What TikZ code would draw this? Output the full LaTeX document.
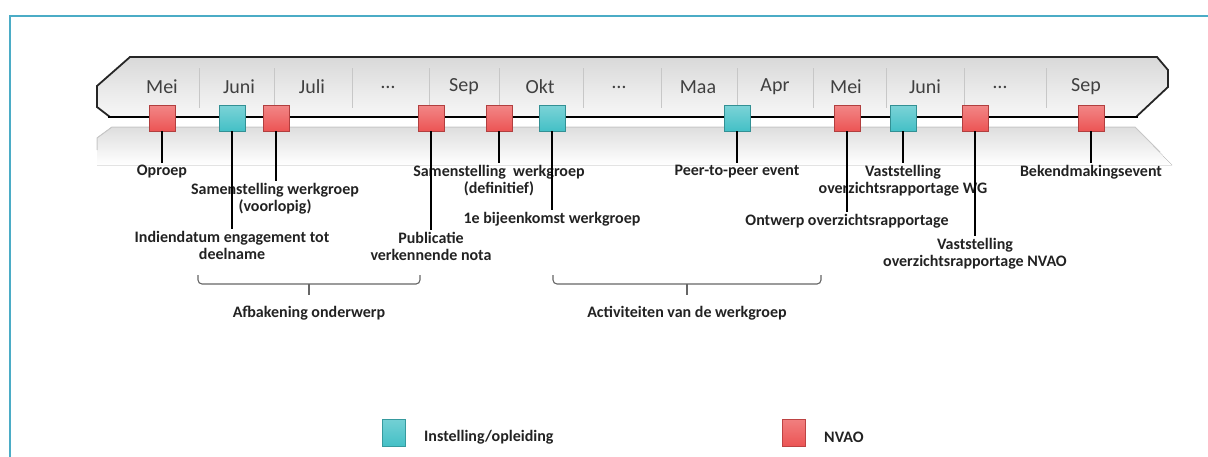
\documentclass[tikz,border=0pt]{standalone}
\usepackage{fontspec}
\setmainfont{Carlito}
\definecolor{frameblue}{HTML}{4BACC6}
\definecolor{nvaored}{HTML}{EC5454}
\definecolor{instcyan}{HTML}{44C0C6}
\definecolor{labeltext}{HTML}{222222}
\definecolor{monthtext}{HTML}{404040}
\tikzset{
  sq/.style={minimum size=26pt, inner sep=0pt, draw=#1!75!black, line width=0.6pt,
             top color=#1!70!white, bottom color=#1},
  legsq/.style={minimum width=23pt, minimum height=27pt, inner sep=0pt, draw=#1!80!black,
             line width=0.5pt, top color=#1!75!white, bottom color=#1},
  lbl/.style={anchor=north, inner sep=2pt, align=center, text=labeltext,
             font=\bfseries\fontsize{16}{17}\selectfont},
  month/.style={text=monthtext, font=\fontsize{20}{22}\selectfont, inner sep=0pt},
  sep/.style={black!22, line width=0.9pt},
  conn/.style={black, line width=1.8pt},
  brace/.style={black!60, line width=1.1pt, rounded corners=4pt},
  legtxt/.style={anchor=west, inner sep=0pt, text=labeltext,
             font=\bfseries\fontsize{16}{17}\selectfont}
}
\begin{document}
\begin{tikzpicture}[x=1pt,y=-1pt]
\useasboundingbox (0,0) rectangle (1208,456);
% frame
\draw[frameblue, line width=2pt] (10,470) -- (10,16) -- (1220,16);
% reflection
\fill[top color=black!13, bottom color=white] (112,127) -- (1135,127) -- (1172,165) -- (97,165) -- (97,138) -- cycle;
\draw[black!22, line width=1pt] (97,150) -- (97,138) -- (112,127) -- (1135,127) -- (1160,152);
% banner
\fill[top color=black!15, bottom color=black!3] (130,57) -- (1157,57) -- (1168,70) -- (1168,87) -- (1136,117) -- (110,117) -- (97,107) -- (97,86) -- cycle;
\draw[black!85, line width=1.8pt] (110,117) -- (97,107) -- (97,86) -- (130,57) -- (1157,57) -- (1168,70) -- (1168,87) -- (1136,117);
\draw[black, line width=2.2pt] (108,117) -- (1138,117);
% separators
\foreach \x in {199,274,352,429,499,583,661,737,813,886,964,1046}
  \draw[sep] (\x,68) -- (\x,108);
% months
\node[month] (m1) at (162,87) {Mei};
\node[month] (m2) at (239,87) {Juni};
\node[month] (m3) at (312,87) {Juli};
\node[month] (m4) at (388,87) {…};
\node[month] (m5) at (464,87) {Sep};
\node[month] (m6) at (540,87) {Okt};
\node[month] (m7) at (619,87) {…};
\node[month] (m8) at (698,87) {Maa};
\node[month] (m9) at (775,87) {Apr};
\node[month] (m10) at (846,87) {Mei};
\node[month] (m11) at (925,87) {Juni};
\node[month] (m12) at (1000,87) {…};
\node[month] (m13) at (1086,87) {Sep};
% labels
\node[lbl] (l1) at (162,163) {Oproep};
\node[lbl] (l2) at (232,229) {Indiendatum engagement tot\\deelname};
\node[lbl] (l3) at (275,181) {Samenstelling werkgroep\\(voorlopig)};
\node[lbl] (l4) at (431,230) {Publicatie\\verkennende nota};
\node[lbl] (l5) at (499,163) {Samenstelling\ \ werkgroep\\(definitief)};
\node[lbl] (l6) at (552,210) {1e bijeenkomst werkgroep};
\node[lbl] (l7) at (737,163) {Peer-to-peer event};
\node[lbl] (l8) at (847,212) {Ontwerp overzichtsrapportage};
\node[lbl] (l9) at (903,163) {Vaststelling\\overzichtsrapportage WG};
\node[lbl] (l10) at (975,236) {Vaststelling\\overzichtsrapportage NVAO};
\node[lbl] (l11) at (1091,163) {Bekendmakingsevent};
% squares
\node[sq=nvaored] (s1) at (162,118) {};
\node[sq=instcyan] (s2) at (232,118) {};
\node[sq=nvaored] (s3) at (276,118) {};
\node[sq=nvaored] (s4) at (431,118) {};
\node[sq=nvaored] (s5) at (499,118) {};
\node[sq=instcyan] (s6) at (552,118) {};
\node[sq=instcyan] (s7) at (737,118) {};
\node[sq=nvaored] (s8) at (847,118) {};
\node[sq=instcyan] (s9) at (903,118) {};
\node[sq=nvaored] (s10) at (975,118) {};
\node[sq=nvaored] (s11) at (1091,118) {};
% connectors
\draw[conn] (s1.south) -- (s1.south |- l1.north);
\draw[conn] (s2.south) -- (s2.south |- l2.north);
\draw[conn] (s3.south) -- (s3.south |- l3.north);
\draw[conn] (s4.south) -- (s4.south |- l4.north);
\draw[conn] (s5.south) -- (s5.south |- l5.north);
\draw[conn] (s6.south) -- (s6.south |- l6.north);
\draw[conn] (s7.south) -- (s7.south |- l7.north);
\draw[conn] (s8.south) -- (s8.south |- l8.north);
\draw[conn] (s9.south) -- (s9.south |- l9.north);
\draw[conn] (s10.south) -- (s10.south |- l10.north);
\draw[conn] (s11.south) -- (s11.south |- l11.north);
% braces
\coordinate (b1l) at (198,275);
\coordinate (b1r) at (420,275);
\coordinate (b1m) at (309,295);
\draw[brace] (b1l) -- (198,284) -- (420,284) -- (b1r);
\draw[black!60, line width=1.1pt] (309,284) -- (b1m);
\node[lbl] (g1) at (309,304) {Afbakening onderwerp};
\coordinate (b2l) at (553,275);
\coordinate (b2r) at (821,275);
\coordinate (b2m) at (687,295);
\draw[brace] (b2l) -- (553,284) -- (821,284) -- (b2r);
\draw[black!60, line width=1.1pt] (687,284) -- (b2m);
\node[lbl] (g2) at (687,304) {Activiteiten van de werkgroep};
% legend
\node[legsq=instcyan] (lc) at (394,433) {};
\node[legtxt] (lct) at (424,437) {Instelling/opleiding};
\node[legsq=nvaored] (lr) at (794,433) {};
\node[legtxt] (lrt) at (824,437) {NVAO};
\end{tikzpicture}
\end{document}
